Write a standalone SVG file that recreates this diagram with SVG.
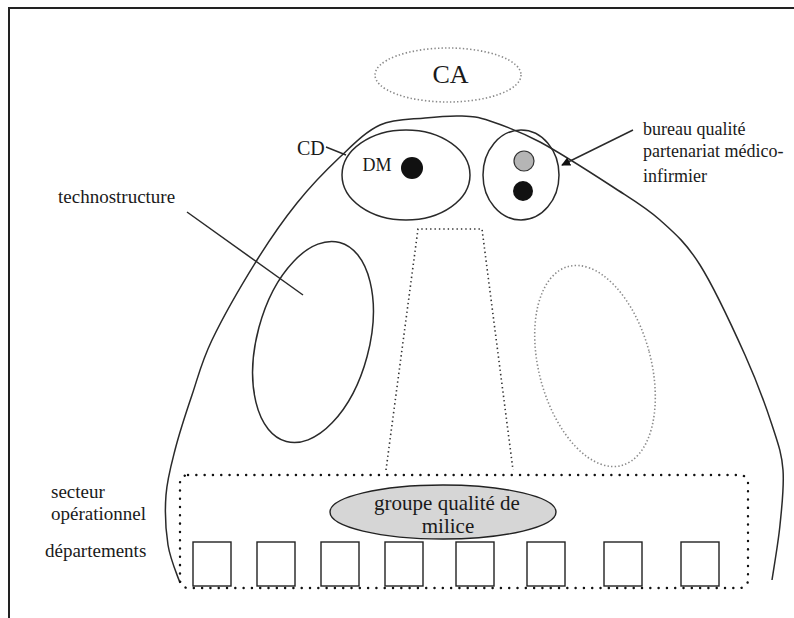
<svg xmlns="http://www.w3.org/2000/svg" width="794" height="618" viewBox="0 0 794 618">
  <defs>
    <style>
      text { font-family: "Liberation Serif", "Tinos", "Times New Roman", "DejaVu Serif", serif; fill: #1a1a1a; }
      .line { fill: none; stroke: #2a2a2a; stroke-width: 1.5; }
      .greydots { fill: none; stroke: #8a8a8a; stroke-width: 1.6; stroke-dasharray: 1.4 2.2; }
      .darkdots { fill: none; stroke: #333; stroke-width: 1.6; stroke-dasharray: 1.4 3; }
      .bigdots { fill: none; stroke: #111; stroke-width: 2.4; stroke-linecap: round; stroke-dasharray: 0.1 8.2; }
      .dept { fill: #fff; stroke: #222; stroke-width: 1.4; }
    </style>
    <marker id="arrowhead" viewBox="0 0 10 10" refX="9" refY="5" markerWidth="9" markerHeight="9" markerUnits="userSpaceOnUse" orient="auto">
      <path d="M0,0 L10,5 L0,10 Z" fill="#111"/>
    </marker>
  </defs>

  <rect width="794" height="618" fill="#fff"/>

  <!-- page frame (top and left edges) -->
  <path d="M9,618 L9,8 L794,8" fill="none" stroke="#222" stroke-width="2"/>

  <!-- organisation outline -->
  <g id="organisation">
    <path class="line" d="M180,583 C178,576.7 170.3,559.7 168,545 C165.7,530.3 164.8,510.8 166,495 C167.2,479.2 170.7,466.7 175,450 C179.3,433.3 185.8,413.3 192,395 C198.2,376.7 201.2,362.5 212,340 C222.8,317.5 242.8,282.8 257,260 C271.2,237.2 283.2,220.2 297,203 C310.8,185.8 326.2,170 340,157 C353.8,144 365.8,131.5 380,125 C394.2,118.5 411.3,119.5 425,118 C438.7,116.5 451.2,115.5 462,116 C472.8,116.5 477,116.7 490,121 C503,125.3 519.5,131 540,142 C560.5,153 593,174 613,187 C633,200 645.5,207 660,220 C674.5,233 685.8,242.5 700,265 C714.2,287.5 733,328.3 745,355 C757,381.7 765.7,405.8 772,425 C778.3,444.2 781.7,453.3 783,470 C784.3,486.7 781.8,506.7 780,525 C778.2,543.3 773.3,570.8 772,580"/>
  </g>

  <g id="ca">
    <ellipse class="greydots" cx="448" cy="75" rx="73" ry="27"/>
    <text x="450.5" y="83" font-size="26" text-anchor="middle">CA</text>
  </g>

  <g id="cd">
    <text x="297" y="155" font-size="20">CD</text>
  </g>

  <g id="direction">
    <ellipse class="line" cx="406" cy="175" rx="64" ry="45"/>
    <text x="362.5" y="171" font-size="18">DM</text>
    <circle cx="412" cy="168" r="11" fill="#111"/>
  </g>

  <g id="bureau-qualite">
    <ellipse class="line" cx="521" cy="175" rx="38" ry="45"/>
    <circle cx="524" cy="161" r="10" fill="#b5b5b5" stroke="#333" stroke-width="1.2"/>
    <circle cx="523" cy="191" r="10" fill="#111"/>
    <text font-size="18"><tspan x="643" y="135">bureau qualité</tspan><tspan x="643" y="157">partenariat médico-</tspan><tspan x="643" y="182">infirmier</tspan></text>
  </g>

  <g id="technostructure">
    <ellipse class="line" cx="313" cy="342" rx="56" ry="103" transform="rotate(15 313 342)"/>
    <text x="58" y="203" font-size="19">technostructure</text>
  </g>

  <g id="ligne-hierarchique">
    <path class="darkdots" d="M386,470 L418,229 L482,229 L513,470"/>
  </g>

  <g id="support-logistique">
    <ellipse class="greydots" cx="595" cy="366" rx="56" ry="103" transform="rotate(-15 595 366)"/>
  </g>

  <g id="secteur-operationnel">
    <rect class="bigdots" x="180" y="475" width="568" height="113" rx="8"/>
    <text font-size="19"><tspan x="51" y="498">secteur</tspan><tspan x="51" y="520">opérationnel</tspan></text>
  </g>

  <g id="groupe-qualite">
    <ellipse cx="443" cy="512" rx="113" ry="27" fill="#d6d6d6" stroke="#222" stroke-width="1.4"/>
    <text font-size="21" text-anchor="middle"><tspan x="447" y="510">groupe qualité de</tspan><tspan x="448" y="533">milice</tspan></text>
  </g>

  <g id="departements">
    <text x="45" y="557" font-size="19">départements</text>
    <rect class="dept" x="193" y="542" width="38" height="44"/>
    <rect class="dept" x="257" y="542" width="38" height="44"/>
    <rect class="dept" x="321" y="542" width="38" height="44"/>
    <rect class="dept" x="385" y="542" width="38" height="44"/>
    <rect class="dept" x="456" y="542" width="38" height="44"/>
    <rect class="dept" x="527" y="542" width="38" height="44"/>
    <rect class="dept" x="604" y="542" width="38" height="44"/>
    <rect class="dept" x="681" y="542" width="38" height="44"/>
  </g>

  <!-- leader lines -->
  <g id="connectors">
    <line class="line" x1="326" y1="147" x2="346" y2="155"/>
    <line class="line" x1="633" y1="130" x2="562" y2="165" marker-end="url(#arrowhead)"/>
    <line class="line" x1="187" y1="212" x2="303" y2="295"/>
  </g>
</svg>
